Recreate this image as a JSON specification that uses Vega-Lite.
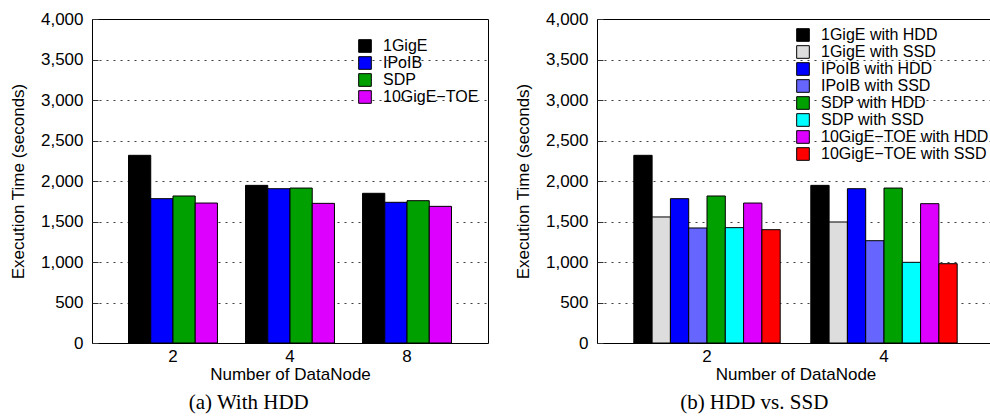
{
  "$schema": "https://vega.github.io/schema/vega-lite/v6.json",
  "padding": {"left": 8, "top": 9, "right": 0, "bottom": 0},
  "spacing": 24,
  "background": "#ffffff",
  "config": {
    "view": {"stroke": "#000000", "strokeWidth": 1},
    "axis": {
      "labelFont": "Liberation Sans", "labelFontSize": 17, "labelColor": "#000000",
      "titleFont": "Liberation Sans", "titleFontSize": 17, "titleFontWeight": "normal", "titleColor": "#000000",
      "domain": false, "tickColor": "#333333"
    },
    "legend": {
      "labelFont": "Liberation Sans", "labelFontSize": 16, "labelColor": "#000000", "labelLimit": 400,
      "symbolType": "square", "symbolSize": 160, "symbolStrokeColor": "#000000", "symbolStrokeWidth": 1,
      "symbolOpacity": 1, "padding": 0, "labelOffset": 10, "title": null, "orient": "none"
    },
    "title": {"font": "Liberation Serif", "fontSize": 21, "fontWeight": "normal", "color": "#000000"}
  },
  "datasets": {
    "hdd": [
      {"nodes": 2, "net": "1GigE", "time": 2317},
      {"nodes": 2, "net": "IPoIB", "time": 1782},
      {"nodes": 2, "net": "SDP", "time": 1815},
      {"nodes": 2, "net": "10GigE−TOE", "time": 1728},
      {"nodes": 4, "net": "1GigE", "time": 1946},
      {"nodes": 4, "net": "IPoIB", "time": 1905},
      {"nodes": 4, "net": "SDP", "time": 1913},
      {"nodes": 4, "net": "10GigE−TOE", "time": 1724},
      {"nodes": 8, "net": "1GigE", "time": 1848},
      {"nodes": 8, "net": "IPoIB", "time": 1737},
      {"nodes": 8, "net": "SDP", "time": 1757},
      {"nodes": 8, "net": "10GigE−TOE", "time": 1687}
    ],
    "ssd": [
      {"nodes": 2, "series": "1GigE with HDD", "time": 2317},
      {"nodes": 2, "series": "1GigE with SSD", "time": 1556},
      {"nodes": 2, "series": "IPoIB with HDD", "time": 1782},
      {"nodes": 2, "series": "IPoIB with SSD", "time": 1420},
      {"nodes": 2, "series": "SDP with HDD", "time": 1815},
      {"nodes": 2, "series": "SDP with SSD", "time": 1424},
      {"nodes": 2, "series": "10GigE−TOE with HDD", "time": 1728},
      {"nodes": 2, "series": "10GigE−TOE with SSD", "time": 1399},
      {"nodes": 4, "series": "1GigE with HDD", "time": 1946},
      {"nodes": 4, "series": "1GigE with SSD", "time": 1494},
      {"nodes": 4, "series": "IPoIB with HDD", "time": 1905},
      {"nodes": 4, "series": "IPoIB with SSD", "time": 1263},
      {"nodes": 4, "series": "SDP with HDD", "time": 1913},
      {"nodes": 4, "series": "SDP with SSD", "time": 996},
      {"nodes": 4, "series": "10GigE−TOE with HDD", "time": 1720},
      {"nodes": 4, "series": "10GigE−TOE with SSD", "time": 979}
    ]
  },
  "hconcat": [
    {
      "width": 396,
      "height": 324,
      "data": {"name": "hdd"},
      "title": {"text": "(a) With HDD", "orient": "bottom", "anchor": "middle", "frame": "bounds", "offset": 10},
      "mark": {"type": "bar", "stroke": "#000000", "strokeWidth": 1},
      "encoding": {
        "x": {
          "field": "nodes", "type": "ordinal", "sort": [2, 4, 8],
          "scale": {"paddingInner": 0.24, "paddingOuter": 0.312},
          "axis": {"title": "Number of DataNode", "labelAngle": 0, "ticks": false, "labelPadding": 5, "titlePadding": 2, "grid": false}
        },
        "xOffset": {
          "field": "net", "type": "nominal", "sort": ["1GigE", "IPoIB", "SDP", "10GigE−TOE"],
          "scale": {"paddingInner": 0, "paddingOuter": 0}
        },
        "y": {
          "field": "time", "type": "quantitative",
          "scale": {"domain": [0, 4000], "nice": false},
          "axis": {
            "title": "Execution Time (seconds)", "values": [0, 500, 1000, 1500, 2000, 2500, 3000, 3500, 4000],
            "format": ",d", "grid": true, "gridColor": "#000000", "gridOpacity": 0.75, "gridDash": [2, 5],
            "tickSize": -6, "labelPadding": 15, "titlePadding": 13
          }
        },
        "color": {
          "field": "net", "type": "nominal",
          "scale": {"domain": ["1GigE", "IPoIB", "SDP", "10GigE−TOE"], "range": ["#000000", "#0000ff", "#00a000", "#dd00ff"]},
          "legend": {"legendX": 265, "legendY": 19, "rowPadding": -1}
        }
      }
    },
    {
      "width": 397,
      "height": 324,
      "data": {"name": "ssd"},
      "title": {"text": "(b) HDD vs. SSD", "orient": "bottom", "anchor": "middle", "frame": "bounds", "offset": 10},
      "mark": {"type": "bar", "stroke": "#000000", "strokeWidth": 1},
      "encoding": {
        "x": {
          "field": "nodes", "type": "ordinal", "sort": [2, 4],
          "scale": {"paddingInner": 0.173, "paddingOuter": 0.208},
          "axis": {"title": "Number of DataNode", "labelAngle": 0, "ticks": false, "labelPadding": 5, "titlePadding": 2, "grid": false}
        },
        "xOffset": {
          "field": "series", "type": "nominal",
          "sort": ["1GigE with HDD", "1GigE with SSD", "IPoIB with HDD", "IPoIB with SSD", "SDP with HDD", "SDP with SSD", "10GigE−TOE with HDD", "10GigE−TOE with SSD"],
          "scale": {"paddingInner": 0, "paddingOuter": 0}
        },
        "y": {
          "field": "time", "type": "quantitative",
          "scale": {"domain": [0, 4000], "nice": false},
          "axis": {
            "title": "Execution Time (seconds)", "values": [0, 500, 1000, 1500, 2000, 2500, 3000, 3500, 4000],
            "format": ",d", "grid": true, "gridColor": "#000000", "gridOpacity": 0.75, "gridDash": [2, 5],
            "tickSize": -6, "labelPadding": 15, "titlePadding": 13
          }
        },
        "color": {
          "field": "series", "type": "nominal",
          "scale": {
            "domain": ["1GigE with HDD", "1GigE with SSD", "IPoIB with HDD", "IPoIB with SSD", "SDP with HDD", "SDP with SSD", "10GigE−TOE with HDD", "10GigE−TOE with SSD"],
            "range": ["#000000", "#dddddd", "#0000ff", "#6666ff", "#00a000", "#00ffff", "#dd00ff", "#ff0000"]
          },
          "legend": {"legendX": 198, "legendY": 8, "rowPadding": -1.8}
        }
      }
    }
  ],
  "resolve": {"scale": {"color": "independent", "x": "independent", "y": "independent", "xOffset": "independent"}, "legend": {"color": "independent"}}
}
